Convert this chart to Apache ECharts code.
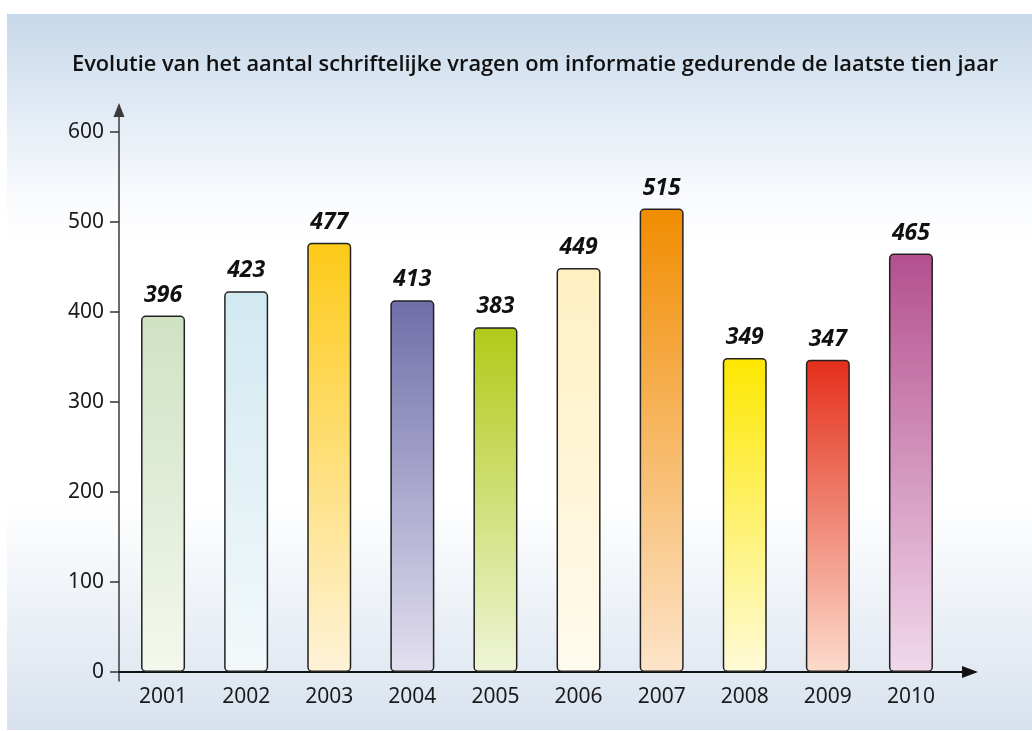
<!DOCTYPE html>
<html>
<head>
<meta charset="utf-8">
<script src="https://cdn.jsdelivr.net/npm/echarts@6/dist/echarts.min.js"></script>
<style>html,body{margin:0;padding:0;background:#fff;}#c{width:1032px;height:731px;}</style>
</head>
<body>
<div id="c"></div>
<script>
const titleText = 'Evolutie van het aantal schriftelijke vragen om informatie gedurende de laatste tien jaar';
const years = ['2001','2002','2003','2004','2005','2006','2007','2008','2009','2010'];
const values = [396, 423, 477, 413, 383, 449, 515, 349, 347, 465];
const topColors = ['#cfe2c2','#d2e9f1','#fdca18','#6f6ea9','#b1ca18','#fff0c2','#f18c00','#fde700','#e42f1b','#b44f8f'];
const bottomColors = ['#f4f8ee','#f3f9fb','#fff3d9','#e3e0f0','#eef5d7','#fffbed','#fde4c9','#fffbd8','#fcdccd','#f1d9eb'];
const yTicks = [0, 100, 200, 300, 400, 500, 600];

const chart = echarts.init(document.getElementById('c'));
const barData = values.map((v, i) => ({
  value: v,
  itemStyle: {
    color: new echarts.graphic.LinearGradient(0, 0, 0, 1, [
      {offset: 0, color: topColors[i]},
      {offset: 1, color: bottomColors[i]}
    ])
  }
}));

chart.setOption({
  backgroundColor: '#ffffff',
  animation: false,
  graphic: [{
    type: 'rect', left: 7, top: 14, z: -10, silent: true,
    shape: {width: 1025, height: 716},
    style: {fill: new echarts.graphic.LinearGradient(0, 0, 0, 1, [
      {offset: 0, color: '#c7d8ea'},
      {offset: 0.25, color: '#f8fafd'},
      {offset: 0.32, color: '#ffffff'},
      {offset: 0.68, color: '#ffffff'},
      {offset: 1, color: '#d8e2ee'}
    ])}
  }],
  title: {
    text: titleText, left: 67, top: 49,
    textStyle: {fontFamily: 'Open Sans', fontWeight: 600, fontSize: 21.8, color: '#111'}
  },
  grid: [
    {left: 121.5, right: 79.5, top: 132, bottom: 59},
    {left: 119, right: 62, top: 110, bottom: 50}
  ],
  xAxis: [{
    type: 'category', gridIndex: 0, data: years,
    axisLine: {show: false}, axisTick: {show: false},
    axisLabel: {margin: 15, fontFamily: 'Noto Sans', fontSize: 21, color: '#1a1a1a'}
  }, {
    type: 'value', gridIndex: 1, min: 0, max: 1,
    axisLine: {show: true, onZero: true, symbol: ['none', 'triangle'], symbolSize: [12, 16], lineStyle: {color: '#111', width: 2}},
    axisTick: {show: false}, axisLabel: {show: false}, splitLine: {show: false}
  }],
  yAxis: [{
    type: 'value', gridIndex: 0, min: 0, max: 600, interval: 100, offset: 2.5,
    axisLine: {show: false},
    axisTick: {show: true, length: 9, lineStyle: {color: '#333', width: 1.5}},
    axisLabel: {margin: 15, fontFamily: 'Noto Sans', fontSize: 21, color: '#1a1a1a',
      formatter: v => yTicks.indexOf(v) >= 0 ? String(v) : ''},
    splitLine: {show: false}
  }, {
    type: 'value', gridIndex: 1, min: -9, max: 562,
    axisLine: {show: true, symbol: ['none', 'triangle'], symbolSize: [11, 14], lineStyle: {color: '#3a3a3a', width: 1.5}},
    axisTick: {show: false}, axisLabel: {show: false}, splitLine: {show: false}
  }],
  series: [{
    type: 'bar', xAxisIndex: 0, yAxisIndex: 0,
    data: barData, barWidth: 44,
    itemStyle: {borderColor: '#222', borderWidth: 1.5, borderRadius: 4},
    label: {show: true, position: 'top', distance: 9, fontFamily: 'Noto Sans', fontStyle: 'italic', fontWeight: 'bold', fontSize: 23, color: '#111'}
  }]
});
</script>
</body>
</html>
